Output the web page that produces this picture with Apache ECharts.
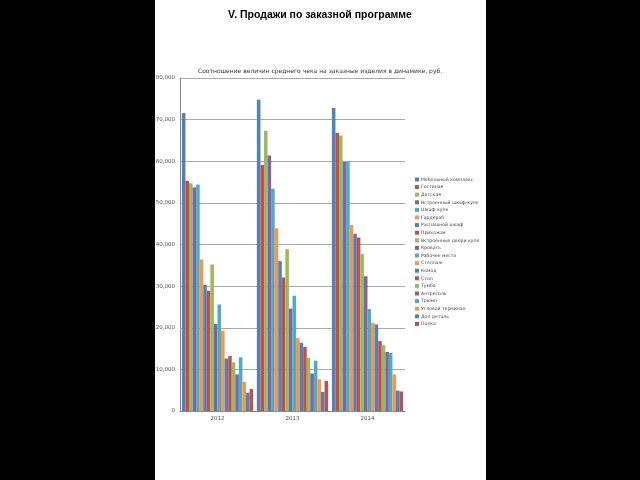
<!DOCTYPE html>
<html>
<head>
<meta charset="utf-8">
<script src="https://cdn.jsdelivr.net/npm/echarts@6/dist/echarts.min.js"></script>
<style>
  html, body { margin: 0; padding: 0; background: #000; }
  #chart { width: 640px; height: 480px; }
</style>
</head>
<body>
<div id="chart"></div>
<script>
// годы
var years = ["2012", "2013", "2014"];
// изделия (легенда)
var products = [
  "Мебельный комплекс", "Гостиная", "Детская", "Встроенный шкаф-купе", "Шкаф купе",
  "Гардероб", "Распашной шкаф", "Прихожая", "Встроенные двери купе", "Кровать",
  "Рабочее место", "Стеллаж", "Комод", "Стол", "Тумба",
  "Антресоль", "Трюмо", "Угловой терминал", "Доп деталь", "Полка"
];
// средний чек по годам, руб.
var values2012 = [71600, 55300, 54700, 53700, 54400, 36400, 30300, 28900, 35200, 20900,
  25600, 19300, 12600, 13200, 11700, 8800, 12900, 7000, 4400, 5300];
var values2013 = [74800, 59100, 67300, 61400, 53400, 43900, 36000, 32100, 38900, 24600,
  27700, 17500, 16400, 15400, 12800, 9000, 12100, 7600, 4600, 7200];
var values2014 = [72800, 66800, 66200, 59800, 59900, 44700, 42600, 41700, 37700, 32400,
  24500, 21200, 20800, 16800, 15800, 14200, 14000, 8800, 4900, 4700];
var yTicks = [0, 10000, 20000, 30000, 40000, 50000, 60000, 70000, 80000];

var palette = ["#4F81BD", "#C0504D", "#9BBB59", "#8064A2", "#4BACC6", "#F79646"];

var series = products.map(function(name, i) {
  return {
    name: name,
    type: "bar",
    barGap: "0%",
    barCategoryGap: "5%",
    itemStyle: { color: palette[i % palette.length] },
    data: [values2012[i], values2013[i], values2014[i]]
  };
});

var myChart = echarts.init(document.getElementById("chart"));
myChart.setOption({
  backgroundColor: "#000",
  animation: false,
  graphic: [
    { type: "rect", z: -100, shape: { x: 155, y: 0, width: 331, height: 480 }, style: { fill: "#fff" } }
  ],
  title: [
    {
      text: "V. Продажи по заказной программе",
      left: "center", top: 5,
      textStyle: { fontFamily: "Liberation Sans", fontSize: 10.5, fontWeight: "bold", color: "#000" }
    },
    {
      text: "Соотношение величин среднего чека на заказные изделия в динамике, руб.",
      left: "center", top: 63,
      textStyle: { fontFamily: "DejaVu Sans", fontSize: 6, fontWeight: "normal", color: "#333" }
    }
  ],
  legend: {
    orient: "vertical",
    left: 410, top: 172,
    itemWidth: 4, itemHeight: 4, itemGap: 2.6,
    icon: "rect",
    textStyle: { fontFamily: "DejaVu Sans", fontSize: 4.6, color: "#444", padding: [0, 0, 0, -3] },
    data: products
  },
  grid: { left: 180, right: 235, top: 78, bottom: 69, containLabel: false },
  xAxis: {
    type: "category",
    data: years,
    axisLine: { lineStyle: { color: "#888" } },
    axisTick: { show: false },
    axisLabel: { fontFamily: "DejaVu Sans", fontSize: 5.5, color: "#555", margin: 5 }
  },
  yAxis: {
    type: "value",
    min: yTicks[0], max: yTicks[yTicks.length - 1], interval: 10000,
    axisLine: { show: true, lineStyle: { color: "#888" } },
    axisTick: { show: false },
    splitLine: { lineStyle: { color: "#aaa" } },
    axisLabel: {
      fontFamily: "DejaVu Sans", fontSize: 5.5, color: "#555", margin: 5,
      formatter: function(v) { return v === 0 ? "0" : v.toLocaleString("en-US"); }
    }
  },
  series: series
});
</script>
</body>
</html>
